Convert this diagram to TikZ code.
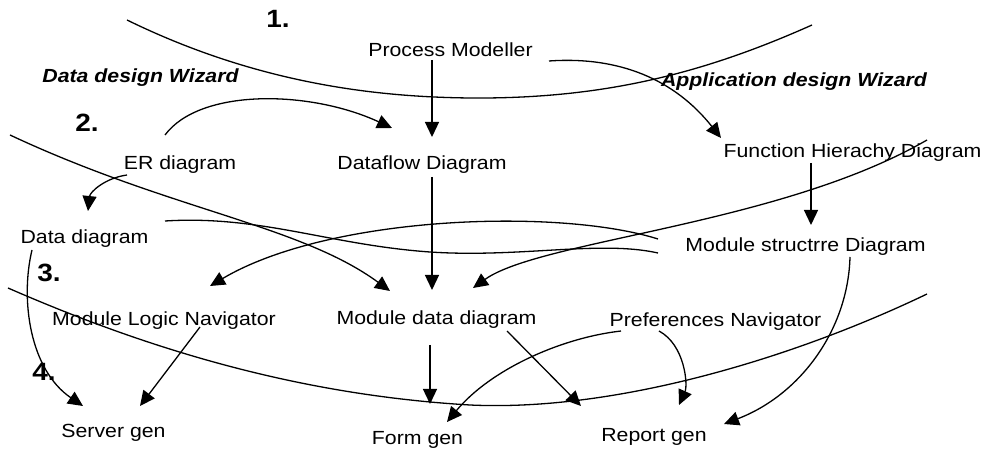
\documentclass[tikz,border=0pt]{standalone}
\usepackage{fontspec}
\setmainfont{Liberation Sans}[FakeStretch=1.12]
\usetikzlibrary{arrows.meta}
\begin{document}
\begin{tikzpicture}[x=1pt,y=-1pt,
  lbl/.style={font=\fontsize{19}{23}\selectfont, inner sep=0pt, anchor=base},
  wiz/.style={inner sep=0pt, anchor=base, font=\fontsize{19}{23}\selectfont\bfseries\itshape},
  num/.style={inner sep=0pt, anchor=base, font=\fontsize{25}{30}\selectfont\bfseries},
  link/.style={line width=1.3pt, -{Triangle[length=15pt,width=14pt]}},
  plain/.style={line width=1.3pt},
  sep/.style={line width=1.3pt}]
\useasboundingbox (0,0) rectangle (994,454);

% level numbers and wizard titles
\node[num] (n1) at (278,28) {1.};
\node[num] (n2) at (87,132) {2.};
\node[num] (n3) at (49,282) {3.};
\node[num] (n4) at (44,381) {4.};
\node[wiz] (ddw) at (140.5,83) {Data design Wizard};
\node[wiz] (adw) at (794,87) {Application design Wizard};

% tools
\node[lbl] (pm)  at (450.5,57)  {Process Modeller};
\node[lbl] (er)  at (180,170)   {ER diagram};
\node[lbl] (dfd) at (422,170)   {Dataflow Diagram};
\node[lbl] (fhd) at (852.5,158) {Function Hierachy Diagram};
\node[lbl] (dd)  at (84.5,244)  {Data diagram};
\node[lbl] (msd) at (805.5,252) {Module structrre Diagram};
\node[lbl] (mln) at (164,326)   {Module Logic Navigator};
\node[lbl] (mdd) at (436.5,325) {Module data diagram};
\node[lbl] (pn)  at (715.5,327) {Preferences Navigator};
\node[lbl] (sg)  at (113.5,437) {Server gen};
\node[lbl] (fg)  at (417.5,444) {Form gen};
\node[lbl] (rg)  at (654,442)   {Report gen};

% level boundaries
\draw[sep] (127,20) .. controls (260,85) and (380,97) .. (470,98)
  .. controls (600,99) and (700,75) .. (812,25);
\draw[sep] (8,288) .. controls (150,350) and (300,395) .. (470,405)
  .. controls (620,412) and (800,355) .. (927,294);

% connector end points
\coordinate (pm-a) at (432,60);   \coordinate (dfd-in) at (432,137);
\coordinate (er-a) at (165,135);  \coordinate (dfd-in2) at (392,128);
\coordinate (pm-b) at (549,61);   \coordinate (fhd-in) at (721,138);
\coordinate (fhd-a) at (811,163); \coordinate (msd-in) at (811,225);
\coordinate (er-b) at (127,175);  \coordinate (dd-in) at (88,211);
\coordinate (dfd-a) at (432,177); \coordinate (mdd-in) at (432,290);
\coordinate (edge-l) at (10,135); \coordinate (mdd-in2) at (390,291);
\coordinate (dd-a) at (165,221);  \coordinate (msd-l) at (658,253);
\coordinate (msd-a) at (658,239); \coordinate (mln-in) at (210,286);
\coordinate (fhd-b) at (927,140); \coordinate (mdd-in3) at (473,288);
\coordinate (mdd-a) at (430,345); \coordinate (fg-in) at (430,404);
\coordinate (mdd-b) at (507,331); \coordinate (rg-in) at (581,406);
\coordinate (pn-a) at (621,331);  \coordinate (fg-in2) at (447,422);
\coordinate (pn-b) at (659,331);  \coordinate (rg-in2) at (679,405);
\coordinate (msd-b) at (850,257); \coordinate (rg-in3) at (724,424);
\coordinate (mln-a) at (200,327); \coordinate (sg-in) at (140,406);
\coordinate (dd-b) at (32,250);   \coordinate (sg-in2) at (83,406);

% connectors
\draw[link] (pm-a) -- (dfd-in);
\draw[link] (er-a) .. controls (200,88) and (310,90) .. (dfd-in2);
\draw[link] (pm-b) .. controls (620,56) and (675,80) .. (fhd-in);
\draw[link] (fhd-a) -- (msd-in);
\draw[link] (er-b) .. controls (105,178) and (90,192) .. (dd-in);
\draw[link] (dfd-a) -- (mdd-in);
\draw[link] (edge-l) .. controls (170,210) and (300,225) .. (mdd-in2);
\draw[plain] (dd-a) .. controls (260,215) and (330,245) .. (430,252)
  .. controls (520,258) and (600,240) .. (msd-l);
\draw[link] (msd-a) .. controls (560,208) and (330,215) .. (mln-in);
\draw[link] (fhd-b) .. controls (780,225) and (540,240) .. (mdd-in3);
\draw[link] (mdd-a) -- (fg-in);
\draw[link] (mdd-b) -- (rg-in);
\draw[link] (pn-a) .. controls (560,338) and (490,370) .. (fg-in2);
\draw[link] (pn-b) .. controls (685,345) and (688,385) .. (rg-in2);
\draw[link] (msd-b) .. controls (848,330) and (800,395) .. (rg-in3);
\draw[link] (mln-a) -- (sg-in);
\draw[link] (dd-b) .. controls (20,300) and (30,370) .. (sg-in2);
\end{tikzpicture}
\end{document}
